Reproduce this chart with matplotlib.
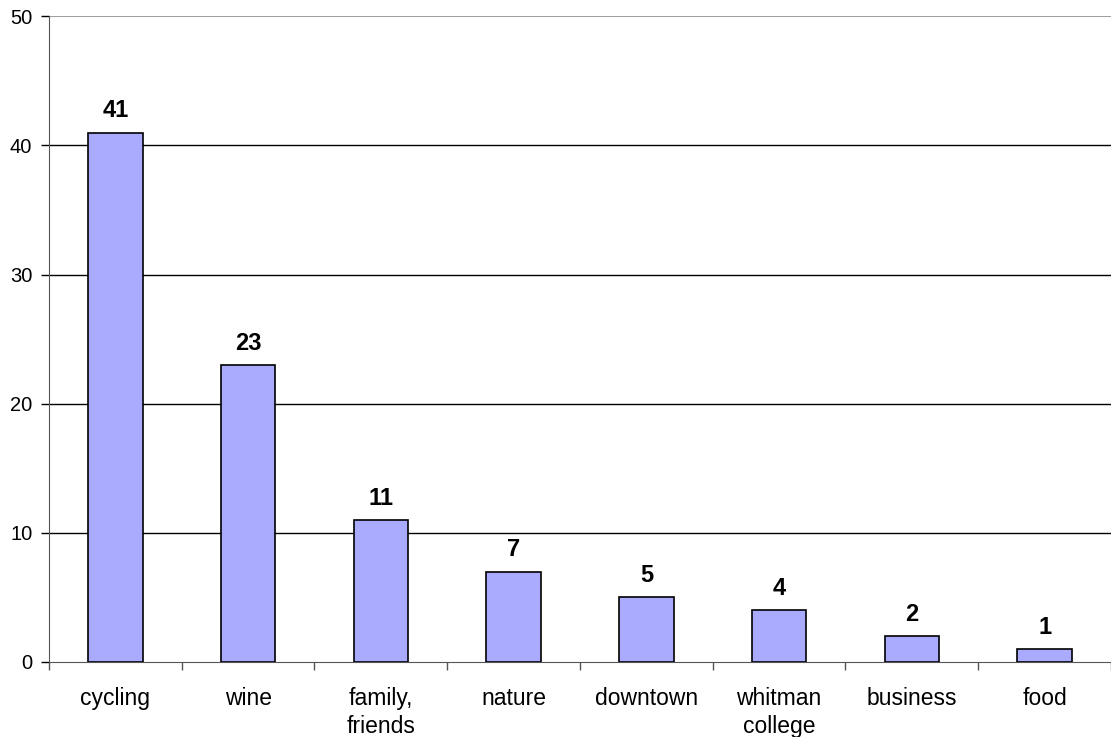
import numpy as np
import matplotlib.pyplot as plt

categories = ["cycling", "wine", "family,\nfriends", "nature", "downtown",
              "whitman\ncollege", "business", "food"]
counts = [41, 23, 11, 7, 5, 4, 2, 1]

plt.rcParams['font.family'] = ['Liberation Sans', 'DejaVu Sans']

fig = plt.figure(figsize=(11.11, 7.37), dpi=100)
ax = fig.add_axes([0.0441, 0.1018, 0.9559, 0.876])

x = np.arange(len(categories))
ax.bar(x, counts, width=0.41, color="#aaaaff", edgecolor="black", linewidth=1.2, zorder=3)

for xi, c in zip(x, counts):
    ax.text(xi, c + 0.8, str(c), ha="center", va="bottom", fontsize=17, fontweight="bold")

ax.set_xlim(-0.5, len(categories) - 0.5)
ax.set_ylim(0, 50)
ax.set_yticks(range(0, 51, 10))
ax.tick_params(axis="y", labelsize=14.5, length=6, width=1, pad=6)

# category labels centred on bars, tick marks between them
ax.set_xticks(np.arange(-0.5, len(categories), 1.0))
ax.set_xticklabels([])
ax.set_xticks(x, minor=True)
ax.set_xticklabels(categories, minor=True, fontsize=16.5, linespacing=1.3)
ax.tick_params(axis="x", which="major", length=6, width=1, color="#555555")
ax.tick_params(axis="x", which="minor", length=0, pad=18)

for y in range(10, 50, 10):
    ax.axhline(y, color="black", linewidth=1, zorder=1)
ax.axhline(50, color="#a0a0a0", linewidth=1.5, zorder=1)

for s in ["top", "right"]:
    ax.spines[s].set_visible(False)
ax.spines["left"].set_color("#555555")
ax.spines["bottom"].set_color("#555555")

fig.savefig("out.png", dpi=100)
